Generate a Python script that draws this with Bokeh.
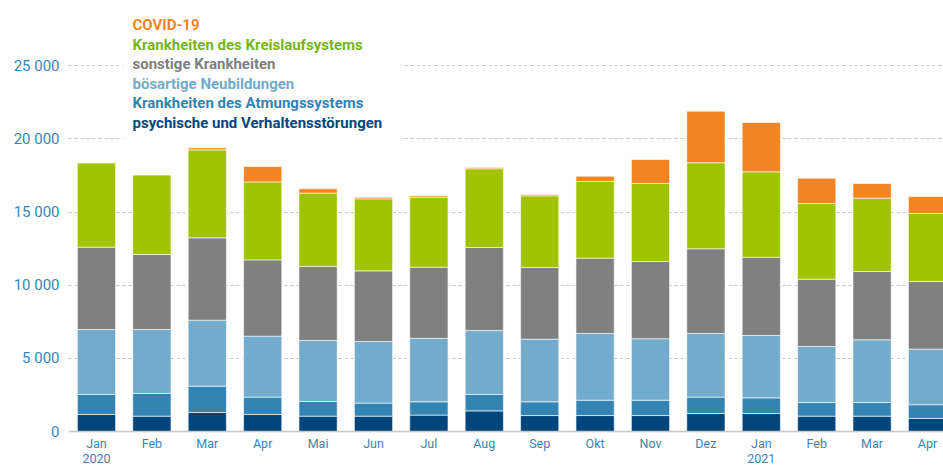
from bokeh.plotting import figure
from bokeh.models import ColumnDataSource, Range1d, FixedTicker, Label, BoxAnnotation, LinearAxis
from bokeh.embed import file_html
from bokeh.resources import INLINE

months = ["Jan", "Feb", "Mar", "Apr", "Mai", "Jun", "Jul", "Aug", "Sep", "Okt",
          "Nov", "Dez", "Jan", "Feb", "Mar", "Apr"]
years = {0: "2020", 12: "2021"}
psychisch = [1160, 1050, 1300, 1160, 1050, 1050, 1120, 1410, 1090, 1090, 1090, 1230, 1230, 1050, 1050, 890]
atmung = [1370, 1550, 1800, 1190, 1000, 890, 910, 1120, 940, 1050, 1050, 1120, 1070, 930, 930, 940]
neubildungen = [4440, 4370, 4510, 4170, 4170, 4210, 4330, 4370, 4280, 4560, 4200, 4350, 4260, 3830, 4290, 3800]
sonstige = [5630, 5130, 5630, 5210, 5060, 4830, 4870, 5680, 4900, 5150, 5280, 5790, 5350, 4600, 4670, 4620]
kreislauf = [5770, 5450, 6010, 5330, 5010, 4920, 4790, 5380, 4900, 5240, 5330, 5880, 5840, 5170, 5010, 4650]
covid = [0, 0, 140, 1050, 300, 90, 90, 90, 90, 360, 1640, 3520, 3370, 1730, 1000, 1160]

series = ["psychisch", "atmung", "neubildungen", "sonstige", "kreislauf", "covid"]
labels = ["psychische und Verhaltensstörungen", "Krankheiten des Atmungssystems",
          "bösartige Neubildungen", "sonstige Krankheiten",
          "Krankheiten des Kreislaufsystems", "COVID-19"]
bar_colors = ["#00457c", "#3384b3", "#72abcb", "#808080", "#a0c300", "#f38424"]
text_colors = ["#00457c", "#3384b3", "#72abcb", "#7f7f7f", "#78b41e", "#f38424"]
y_ticks = [0, 5000, 10000, 15000, 20000, 25000]

FONT = "Roboto"
AXIS_COLOR = "#3a84b8"

xs = list(range(len(months)))
source = ColumnDataSource(dict(x=xs, psychisch=psychisch, atmung=atmung, neubildungen=neubildungen,
                               sonstige=sonstige, kreislauf=kreislauf, covid=covid))

p = figure(width=943, height=465, output_backend="svg", toolbar_location=None,
           x_range=Range1d(-0.505, 15.289), y_range=Range1d(0, 29460),
           min_border_left=68, min_border_right=0, min_border_top=0, min_border_bottom=34)
p.outline_line_color = None
p.background_fill_color = "white"
p.border_fill_color = "white"

p.vbar_stack(series, x="x", width=0.69, source=source, color=bar_colors,
             line_color="white", line_alpha=0.6, line_width=1)

# month axis
xa = p.xaxis[0]
xa.ticker = FixedTicker(ticks=xs)
xa.major_label_overrides = {i: m for i, m in enumerate(months)}
xa.axis_line_color = "#c8c8c8"
xa.axis_line_width = 1.5
xa.major_tick_line_color = None
xa.major_tick_out = 0
xa.major_tick_in = 0
xa.minor_tick_line_color = None
xa.minor_tick_out = 0
xa.major_label_text_color = AXIS_COLOR
xa.major_label_text_font = FONT
xa.major_label_text_font_size = "12.5px"
xa.major_label_standoff = 4
p.xgrid.grid_line_color = None

# year axis
ya2 = LinearAxis(ticker=FixedTicker(ticks=list(years.keys())),
                 major_label_overrides=dict(years),
                 axis_line_color=None, major_tick_line_color=None, minor_tick_line_color=None,
                 major_tick_out=0, major_tick_in=0, minor_tick_out=0, minor_tick_in=0,
                 major_label_standoff=0, major_label_text_color=AXIS_COLOR,
                 major_label_text_font=FONT, major_label_text_font_size="12.5px")
p.add_layout(ya2, "below")

yax = p.yaxis[0]
yax.ticker = FixedTicker(ticks=y_ticks)
yax.major_label_overrides = {t: (f"{t:,}".replace(",", " ") if t else "0") for t in y_ticks}
yax.axis_line_color = None
yax.major_tick_line_color = None
yax.major_tick_out = 0
yax.major_tick_in = 0
yax.minor_tick_line_color = None
yax.minor_tick_out = 0
yax.major_label_text_color = AXIS_COLOR
yax.major_label_text_font = FONT
yax.major_label_text_font_size = "15px"
yax.major_label_standoff = 9
p.ygrid.grid_line_color = "#c4c4c4"
p.ygrid.grid_line_dash = "3 3"
p.ygrid.grid_line_width = 1

# legend background (hides gridlines behind legend)
p.add_layout(BoxAnnotation(left=55, right=332, bottom=288, top=470,
                           left_units="screen", right_units="screen",
                           top_units="screen", bottom_units="screen",
                           fill_color="white", fill_alpha=1.0, line_color=None))

baselines = [309, 328.5, 348, 367.5, 387, 407]
for lab, col, yb in zip(labels, text_colors, baselines):
    p.add_layout(Label(x=64, y=yb, x_units="screen", y_units="screen", text=lab,
                       text_color=col, text_font=FONT, text_font_style="bold",
                       text_font_size="15px", text_baseline="alphabetic"))

open("out.html", "w").write(file_html(p, INLINE))
